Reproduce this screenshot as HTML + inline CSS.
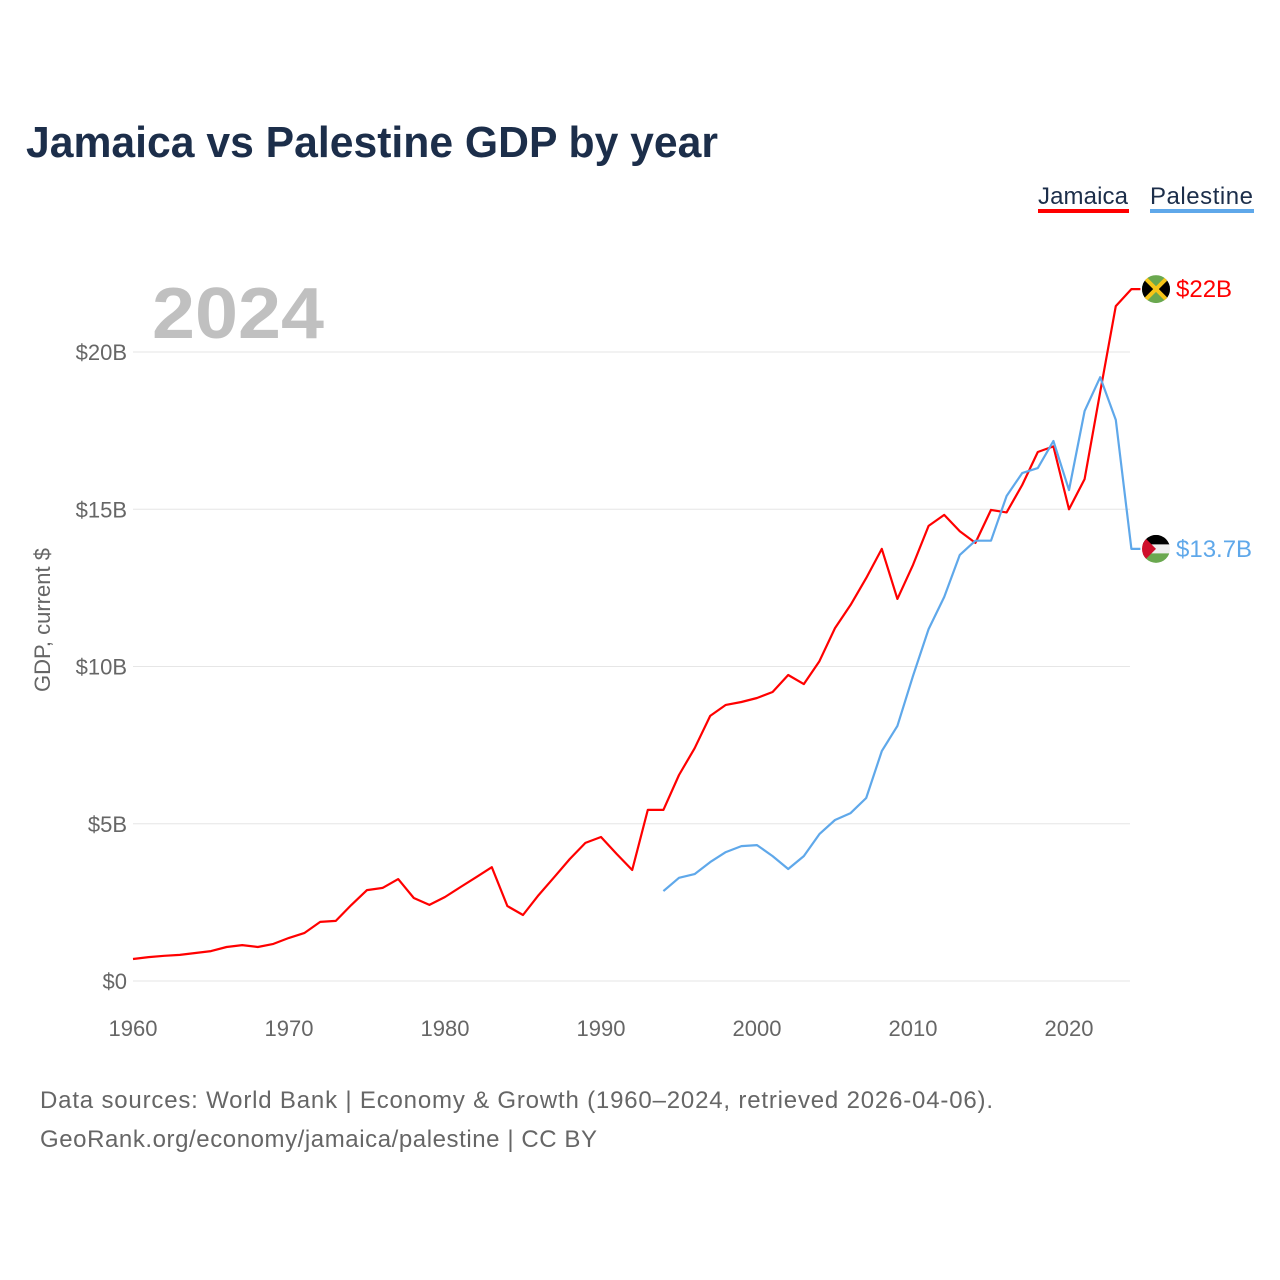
<!DOCTYPE html>
<html><head><meta charset="utf-8"><style>
body{margin:0;background:#fff;font-family:"Liberation Sans",sans-serif;}
#wrap{position:relative;width:1280px;height:1280px;overflow:hidden;}
</style></head><body>
<div id="wrap">
<svg id="chart" width="1280" height="1280" style="font-family:'Liberation Sans',sans-serif">
<text x="26" y="157" font-size="44" font-weight="bold" fill="#1c2e4a" textLength="692" lengthAdjust="spacingAndGlyphs">Jamaica vs Palestine GDP by year</text>
<g><text x="1038" y="204" font-size="24" fill="#1c2e4a" textLength="90">Jamaica</text><rect x="1038" y="209" width="91" height="4" fill="#ff0000"/></g>
<g><text x="1150" y="204" font-size="24" fill="#1c2e4a" textLength="103">Palestine</text><rect x="1150" y="209" width="104" height="4" fill="#5fa8ea"/></g>
<text x="152" y="338" font-size="72" font-weight="bold" fill="#c0c0c0" textLength="172" lengthAdjust="spacingAndGlyphs">2024</text>
<text transform="translate(50,620) rotate(-90)" text-anchor="middle" font-size="22" fill="#666">GDP, current $</text>
<g id="grid"></g><g id="xt"></g><g id="lines"></g><g id="ends"></g>
<text x="40" y="1108" font-size="24" fill="#666" textLength="953">Data sources: World Bank | Economy &amp; Growth (1960–2024, retrieved 2026-04-06).</text>
<text x="40" y="1147" font-size="24" fill="#666" textLength="557">GeoRank.org/economy/jamaica/palestine | CC BY</text>
</svg></div>
<script>
const yTicks=[0,5,10,15,20];
const yTickLabels=["$0","$5B","$10B","$15B","$20B"];
const xTicks=[1960,1970,1980,1990,2000,2010,2020];
const jamaicaStart=1960;
const jamaica=[0.70,0.76,0.80,0.83,0.89,0.95,1.08,1.14,1.08,1.18,1.37,1.53,1.88,1.91,2.42,2.89,2.96,3.24,2.64,2.42,2.67,2.99,3.30,3.62,2.38,2.10,2.73,3.30,3.88,4.39,4.58,4.04,3.53,5.44,5.44,6.55,7.40,8.43,8.78,8.87,9.00,9.19,9.73,9.44,10.17,11.22,11.96,12.81,13.74,12.15,13.23,14.47,14.82,14.30,13.93,14.98,14.90,15.77,16.82,17.00,15.00,15.96,18.73,21.46,22.00];
const palestineStart=1994;
const palestine=[2.86,3.28,3.40,3.78,4.10,4.29,4.32,3.97,3.56,3.97,4.67,5.12,5.34,5.82,7.31,8.11,9.70,11.19,12.21,13.55,14.00,14.00,15.42,16.15,16.31,17.17,15.61,18.12,19.20,17.84,13.74];
const endLabels=["$22B","$13.7B"];
const NS="http://www.w3.org/2000/svg";
const X=y=>133+(y-1960)*15.6;
const Y=v=>981-v*31.45;
function mk(t,a,p){const e=document.createElementNS(NS,t);for(const k in a)e.setAttribute(k,a[k]);p.appendChild(e);return e;}
const grid=document.getElementById('grid');
yTicks.forEach((v,i)=>{
 const l=mk('line',{x1:133,x2:1130,y1:Y(v),y2:Y(v),stroke:'#e6e6e6','stroke-width':1},grid);
 
 
 const t=mk('text',{x:127,y:Y(v)+8,'text-anchor':'end','font-size':22,fill:'#666'},grid);
 t.textContent=yTickLabels[i];
 
 
});
const xt=document.getElementById('xt');
xTicks.forEach(v=>{
 const t=mk('text',{x:X(v),y:1036,'text-anchor':'middle','font-size':22,fill:'#666'},xt);
 t.textContent=v;
 
 
});
const lines=document.getElementById('lines');
function series(arr,start,col,name){
 const pts=arr.map((v,i)=>X(start+i).toFixed(1)+','+Y(v).toFixed(1));
 const last=arr[arr.length-1];
 pts.push((X(start+arr.length-1)+9).toFixed(1)+','+Y(last).toFixed(1));
 const p=mk('polyline',{points:pts.join(' '),fill:'none',stroke:col,'stroke-width':2.2,'stroke-linejoin':'round'},lines);
 
 
 return Y(last);
}
const yj=series(jamaica,jamaicaStart,'#ff0000','jamaica-line');
const yp=series(palestine,palestineStart,'#5fa8ea','palestine-line');
const ends=document.getElementById('ends');
let g=mk('g',{},ends);


mk('clipPath',{id:'cj'},g).appendChild(document.createElementNS(NS,'circle'));
const cj=g.querySelector('#cj circle');cj.setAttribute('cx',1156);cj.setAttribute('cy',yj);cj.setAttribute('r',14);
mk('rect',{x:1142,y:yj-14,width:28,height:28,fill:'#6aa84f','clip-path':'url(#cj)'},g);
mk('polygon',{points:`1142,${yj-14} 1156,${yj} 1142,${yj+14}`,fill:'#000','clip-path':'url(#cj)'},g);
mk('polygon',{points:`1170,${yj-14} 1156,${yj} 1170,${yj+14}`,fill:'#000','clip-path':'url(#cj)'},g);
mk('line',{x1:1142,y1:yj-14,x2:1170,y2:yj+14,stroke:'#f5c518','stroke-width':4,'clip-path':'url(#cj)'},g);
mk('line',{x1:1170,y1:yj-14,x2:1142,y2:yj+14,stroke:'#f5c518','stroke-width':4,'clip-path':'url(#cj)'},g);
let t=mk('text',{x:1176,y:yj+8,'font-size':24,fill:'#ff0000'},ends);t.textContent=endLabels[0];


g=mk('g',{},ends);


mk('clipPath',{id:'cp'},g).appendChild(document.createElementNS(NS,'circle'));
const cp=g.querySelector('#cp circle');cp.setAttribute('cx',1156);cp.setAttribute('cy',yp);cp.setAttribute('r',14);
mk('rect',{x:1142,y:yp-14,width:28,height:10,fill:'#000','clip-path':'url(#cp)'},g);
mk('rect',{x:1142,y:yp-4.5,width:28,height:9,fill:'#eee','clip-path':'url(#cp)'},g);
mk('rect',{x:1142,y:yp+4.5,width:28,height:10,fill:'#6aa84f','clip-path':'url(#cp)'},g);
mk('polygon',{points:`1142,${yp-14} 1156,${yp} 1142,${yp+14}`,fill:'#d0102c','clip-path':'url(#cp)'},g);
t=mk('text',{x:1176,y:yp+8,'font-size':24,fill:'#5fa8ea'},ends);t.textContent=endLabels[1];


</script>
</body></html>
